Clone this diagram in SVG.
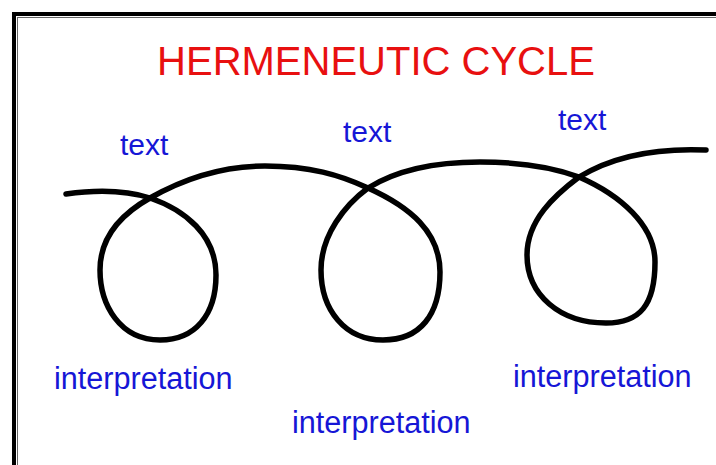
<svg xmlns="http://www.w3.org/2000/svg" width="716" height="465" viewBox="0 0 716 465">
  <style>
    .lbl { font-family: "Liberation Sans", Arial, sans-serif; font-size: 30px; fill: #1616d6; }
    .lbl2 { font-family: "Liberation Sans", Arial, sans-serif; font-size: 30.6px; fill: #1616d6; }
    .title { font-family: "Liberation Sans", Arial, sans-serif; font-size: 40px; fill: #e81010; }
    .curve { fill: none; stroke: #000; stroke-width: 5.5; stroke-linecap: round; stroke-linejoin: round; }
  </style>
  <rect x="0" y="0" width="716" height="465" fill="#fff"/>
  <g id="frame">
    <rect x="14" y="14" width="720" height="470" fill="none" stroke="#000" stroke-width="4"/>
    <rect x="17.5" y="17.5" width="720" height="470" fill="none" stroke="#666" stroke-width="1"/>
  </g>
  <g id="title">
    <text class="title" x="376" y="75" text-anchor="middle">HERMENEUTIC CYCLE</text>
  </g>
  <g id="connectors">
    <path class="curve" d="M66,194 C95,190 125,190 150,198
      C185,210 216,235 216,275
      C216,315 195,340 160,340
      C120,340 100,305 100,270
      C100,235 125,212 150,198
      C185,178 225,166 265,166
      C310,166 340,175 368,188
      C410,207 440,232 440,272
      C440,315 420,340 383,340
      C345,340 321,310 321,270
      C321,235 345,205 368,188
      C400,168 440,162 480,162
      C520,162 555,168 579,177
      C620,195 655,225 655,262
      C655,305 640,323 606,323
      C560,323 527,295 527,255
      C527,220 555,195 579,177
      C615,155 660,148 706,150"/>
  </g>
  <g id="text1"><text class="lbl" x="120" y="155">text</text></g>
  <g id="text2"><text class="lbl" x="343" y="142">text</text></g>
  <g id="text3"><text class="lbl" x="558" y="130">text</text></g>
  <g id="interp1"><text class="lbl2" x="54" y="389">interpretation</text></g>
  <g id="interp2"><text class="lbl2" x="292" y="433">interpretation</text></g>
  <g id="interp3"><text class="lbl2" x="513" y="387">interpretation</text></g>
</svg>
